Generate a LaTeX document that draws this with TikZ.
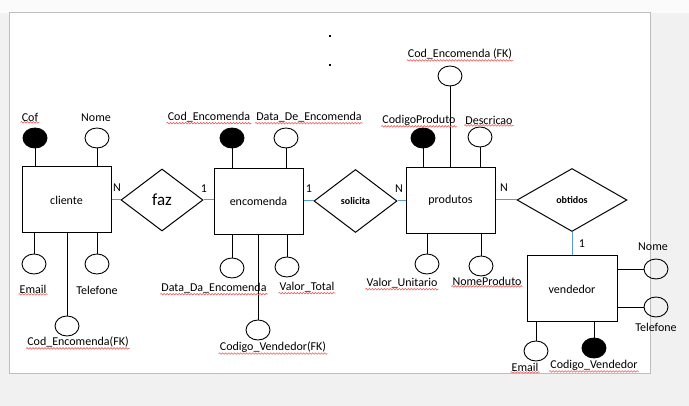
\documentclass[tikz,border=0pt]{standalone}
\usepackage{fontspec}
\setmainfont{Carlito}
\usetikzlibrary{shapes.geometric,decorations.pathmorphing}
\definecolor{LinkBlue}{RGB}{91,155,213}
\definecolor{SpellRed}{RGB}{235,95,95}
\definecolor{PageGray}{RGB}{241,241,241}
\definecolor{TopGray}{RGB}{251,251,251}
\definecolor{EdgeGray}{RGB}{190,190,190}

\begin{document}
\begin{tikzpicture}[
  x=1pt, y=-1pt,
  font=\fontsize{12}{14}\selectfont,
  ent/.style={
    draw, line width=1pt,
    minimum width=89pt,
    minimum height=66pt,
    inner sep=0pt},
  rel/.style={
    diamond, draw, line width=1pt,
    inner sep=0pt},
  attr/.style={
    ellipse, draw, line width=0.9pt,
    minimum width=24pt,
    minimum height=20pt,
    inner sep=0pt},
  key/.style={attr, fill=black},
  lbl/.style={inner sep=1pt},
  link/.style={line width=0.9pt},
  rline/.style={LinkBlue, line width=1pt},
  wavy/.style={
    SpellRed, line width=0.6pt,
    decorate,
    decoration={snake, segment length=3pt, amplitude=0.8pt}}
]

% page
\useasboundingbox (0,0) rectangle (689,406);
\fill[PageGray] (0,0) rectangle (689,406);
\fill[TopGray] (0,0) rectangle (689,13);
\filldraw[fill=white, draw=EdgeGray, line width=1pt]
  (9,13) rectangle (650,374);
\fill (329,35) rectangle (331,37);
\fill (329,64) rectangle (331,66);

% entities
\node[ent] (cliente) at (66.5,200) {cliente};
\node[ent] (encomenda) at (258.5,201.5) {encomenda};
\node[ent] (produtos) at (450.5,200.5) {produtos};
\node[ent, minimum width=90pt] (vendedor) at (572,289) {vendedor};

% relationships
\node[rel, minimum width=82pt, minimum height=62pt,
  font=\fontsize{17}{19}\selectfont] (faz) at (162,200) {faz};
\node[rel, minimum width=83pt, minimum height=63pt,
  font=\bfseries\fontsize{10}{12}\selectfont] (solicita) at (355.5,201) {solicita};
\node[rel, minimum width=110pt, minimum height=63pt,
  font=\bfseries\fontsize{10}{12}\selectfont] (obtidos) at (572,200) {obtidos};

% cliente attributes
\node[key] (cof) at (35,138) {};
\node[attr] (cnome) at (97,138) {};
\node[attr] (cemail) at (34,264) {};
\node[attr] (ctel) at (97,264) {};
\node[attr] (cfk) at (67,326) {};
\node[lbl] (lcof) at (30,117) {Cof};
\node[lbl] (lcnome) at (96,118) {Nome};
\node[lbl] (lcemail) at (33,289) {Email};
\node[lbl] (lctel) at (97,290) {Telefone};
\node[lbl] (lcfk) at (78,342) {Cod\_Encomenda(FK)};

% encomenda attributes
\node[key] (ecod) at (232,138) {};
\node[attr] (edatade) at (286,138) {};
\node[attr] (edatada) at (232,268) {};
\node[attr] (evalor) at (287,267) {};
\node[attr] (efk) at (258,330) {};
\node[lbl] (lecod) at (209,117) {Cod\_Encomenda};
\node[lbl] (ledatade) at (309,117) {Data\_De\_Encomenda};
\node[lbl] (ledatada) at (214,288) {Data\_Da\_Encomenda};
\node[lbl] (levalor) at (307,287) {Valor\_Total};
\node[lbl] (lefk) at (273,347) {Codigo\_Vendedor(FK)};

% produtos attributes
\node[attr] (pfk) at (450,76) {};
\node[key] (pcod) at (423,138) {};
\node[attr] (pdesc) at (480,137) {};
\node[attr] (pvalor) at (427,264) {};
\node[attr] (pnome) at (481,266) {};
\node[lbl] (lpfk) at (460,54) {Cod\_Encomenda (FK)};
\node[lbl] (lpcod) at (419,120) {CodigoProduto};
\node[lbl] (lpdesc) at (489,120) {Descricao};
\node[lbl] (lpvalor) at (402,283) {Valor\_Unitario};
\node[lbl] (lpnome) at (487,281) {NomeProduto};

% vendedor attributes
\node[attr] (vnome) at (656,269) {};
\node[attr] (vtel) at (656,307) {};
\node[attr] (vemail) at (536,351) {};
\node[key] (vcod) at (594,348) {};
\node[lbl] (lvnome) at (653,247) {Nome};
\node[lbl] (lvtel) at (656,327) {Telefone};
\node[lbl] (lvemail) at (525,367) {Email};
\node[lbl] (lvcod) at (594,365) {Codigo\_Vendedor};

% cardinalities
\node[lbl] (card1) at (117,188) {N};
\node[lbl] (card2) at (204,189) {1};
\node[lbl] (card3) at (309,189) {1};
\node[lbl] (card4) at (399,189) {N};
\node[lbl] (card5) at (504,188) {N};
\node[lbl] (card6) at (582,244) {1};

% attribute links
\foreach \a/\e in {cof/cliente, cnome/cliente, ecod/encomenda,
  edatade/encomenda, pfk/produtos, pcod/produtos, pdesc/produtos}
  \draw[link] (\a) -- (\a |- \e.north);
\foreach \a/\e in {cemail/cliente, ctel/cliente, cfk/cliente,
  edatada/encomenda, evalor/encomenda, efk/encomenda,
  pvalor/produtos, pnome/produtos, vemail/vendedor, vcod/vendedor}
  \draw[link] (\a) -- (\a |- \e.south);
\foreach \a in {vnome, vtel}
  \draw[link] (\a) -- (\a -| vendedor.east);

% relationship links
\draw[rline] (cliente.east |- faz.west) -- (faz.west);
\draw[rline] (faz.east) -- (faz.east -| encomenda.west);
\draw[rline] (encomenda.east |- solicita.west) -- (solicita.west);
\draw[rline] (solicita.east) -- (solicita.east -| produtos.west);
\draw[rline] (produtos.east |- obtidos.west) -- (obtidos.west);
\draw[rline] (obtidos.south) -- (vendedor.north);

% spell-check underlines
\foreach \n in {lcof, lcemail, lcfk, lecod, ledatade, ledatada,
  levalor, lefk, lpfk, lpcod, lpdesc, lpvalor, lpnome, lvemail, lvcod}
  \draw[wavy] (\n.south west) -- (\n.south east);
\end{tikzpicture}
\end{document}
